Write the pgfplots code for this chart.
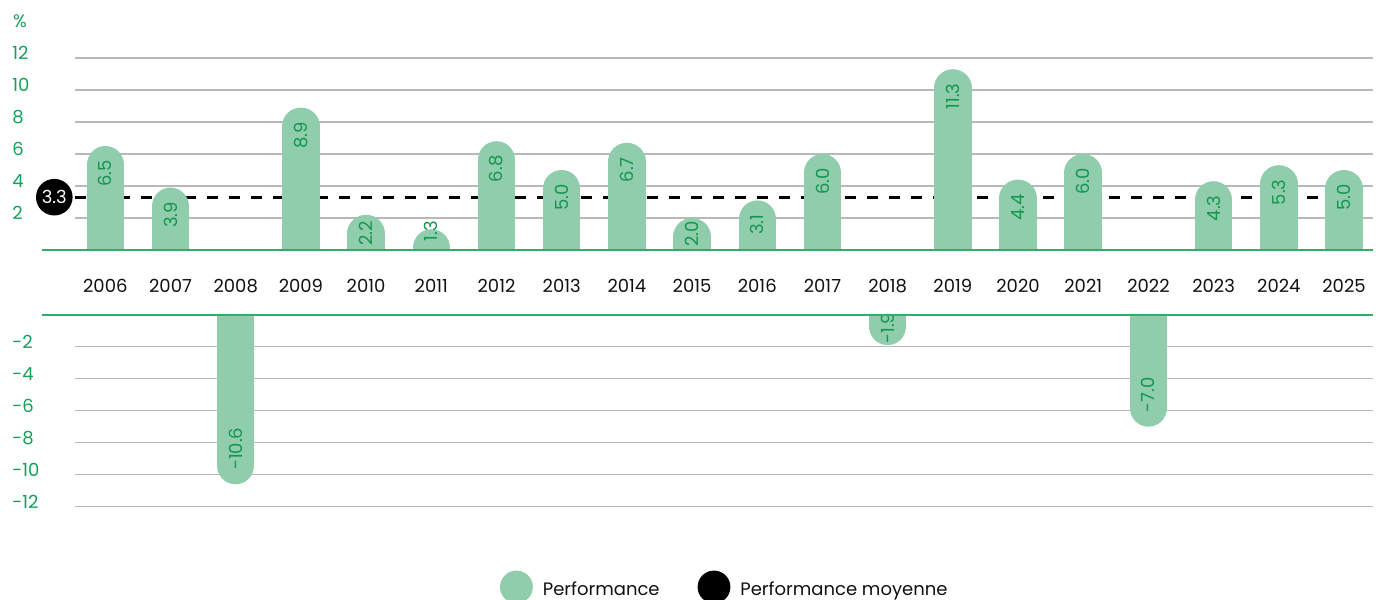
\documentclass[border=0pt]{standalone}
\usepackage{fontspec}
\setmainfont{Poppins}
\usepackage{pgfplots}
\pgfplotsset{compat=1.18}
\usepackage{pgfplotstable}
\definecolor{barfill}{HTML}{8FCDAC}
\definecolor{tickgreen}{HTML}{16A05A}
\definecolor{valgreen}{HTML}{14964F}
\definecolor{basegreen}{HTML}{2EAD6B}
\definecolor{gridgray}{HTML}{B8B8B8}
\definecolor{txt}{HTML}{111111}
\newcommand{\lblfont}{\fontsize{9}{10.8}\selectfont}

\pgfplotstableread{
x v
0 6.5
1 3.9
3 8.9
4 2.2
5 1.3
6 6.8
7 5.0
8 6.7
9 2.0
10 3.1
11 6.0
13 11.3
14 4.4
15 6.0
17 4.3
18 5.3
19 5.0
}\posdata
\pgfplotstableread{
x v
2 -10.6
12 -1.9
16 -7.0
}\negdata

\pgfplotsset{
  /pgf/number format/assume math mode=true,
  base/.style={
    scale only axis, width=648.85pt, height=96pt,
    xmin=-0.465, xmax=19.44,
    axis line style={draw=none},
    tick style={draw=none},
    ymajorgrids, grid style={gridgray, line width=0.75pt},
    clip mode=individual,
    yticklabel style={anchor=west, inner sep=0pt, xshift=-31.5pt, yshift=2.5pt, text=tickgreen, font=\lblfont},
  },
  bars/.style={ycomb, line width=18.75pt, line cap=round, draw=barfill},
  vals/.style={draw=none, mark=none, point meta=explicit,
    every node near coord/.append style={rotate=90, anchor=#1, inner sep=0pt, text=valgreen, font=\lblfont}},
}

\begin{document}
\begin{tikzpicture}
\begin{axis}[base, at={(37.5pt,175pt)}, anchor=south west,
  ymin=0, ymax=12, ytick={2,4,6,8,10,12}, yticklabels={2,4,6,8,10,12},
  xtick={0,...,19},
  xticklabels={2006,2007,2008,2009,2010,2011,2012,2013,2014,2015,2016,2017,2018,2019,2020,2021,2022,2023,2024,2025},
  xticklabel style={anchor=center, inner sep=0pt, yshift=-18pt, text=txt, font=\lblfont},
]
\addplot[black, line width=1.35pt, dash pattern=on 5.5pt off 5.5pt] coordinates {(-0.465,3.3) (19.44,3.3)};
\addplot[bars] table[x=x, y expr=\thisrow{v}-1.172] {\posdata};
\addplot[vals=east, nodes near coords={\pgfmathprintnumber[fixed, fixed zerofill, precision=1]{\pgfplotspointmeta}}]
  table[x=x, y expr={max(\thisrow{v},2.7)-0.875}, meta=v] {\posdata};
\draw[basegreen, line width=1pt] ([xshift=-16.5pt]axis cs:-0.465,0) -- (axis cs:19.44,0);
\node[circle, fill=black, text=white, minimum size=18.3pt, inner sep=0pt, font=\lblfont] at ([xshift=-10.35pt]axis cs:-0.465,3.3) {3.3};
\end{axis}
\begin{axis}[base, at={(37.5pt,46.65pt)}, anchor=south west,
  ymin=-12, ymax=0, ytick={-12,-10,-8,-6,-4,-2}, yticklabels={-12,-10,-8,-6,-4,-2},
  xtick=\empty,
  legend columns=2,
  legend style={at={(axis description cs:0.5015,-0.4182)}, anchor=center, draw=none, fill=none,
    font=\lblfont, text=txt, inner sep=0pt,
    /tikz/every even column/.append style={column sep=17pt}},
]
\addlegendimage{legend image code/.code={\fill[barfill] (8pt,1.5pt) circle (8pt); \path (19pt,0pt);}}
\addlegendentry{Performance}
\addlegendimage{legend image code/.code={\fill[black] (8pt,1.5pt) circle (8pt); \path (19pt,0pt);}}
\addlegendentry{Performance moyenne}
\addplot[bars, forget plot] table[x=x, y expr=\thisrow{v}+1.172] {\negdata};
\addplot[vals=west, forget plot, nodes near coords={-\pgfmathprintnumber[fixed, fixed zerofill, precision=1]{\pgfplotspointmeta}}]
  table[x=x, y expr={min(\thisrow{v},-2.7)+0.875}, meta expr=-\thisrow{v}] {\negdata};
\draw[basegreen, line width=1pt] ([xshift=-16.5pt]axis cs:-0.465,0) -- (axis cs:19.44,0);
\end{axis}
\node[anchor=west, inner sep=0pt, text=tickgreen, font=\lblfont] at (6.3pt,289.5pt) {\%};
\pgfresetboundingbox
\useasboundingbox (0,0) rectangle (689pt,300pt);
\end{tikzpicture}
\end{document}
